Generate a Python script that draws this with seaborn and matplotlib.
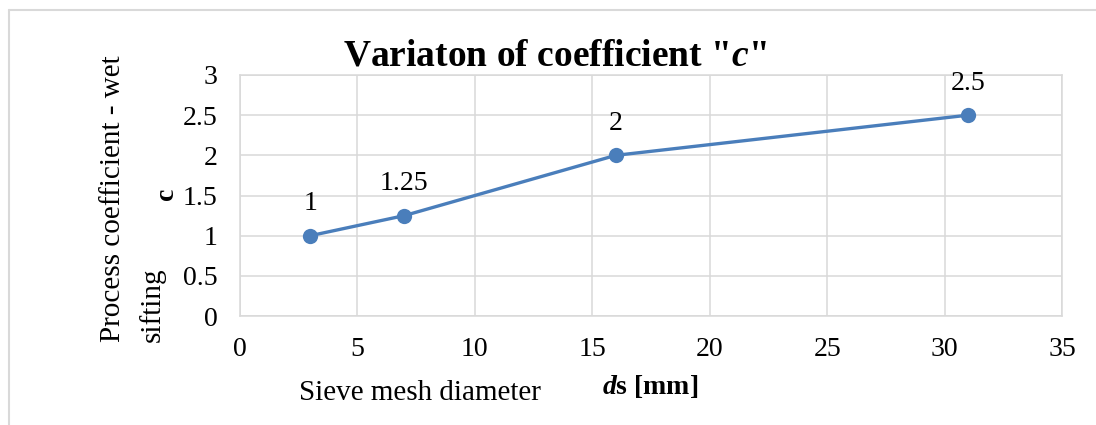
import matplotlib
matplotlib.use("Agg")
import matplotlib.pyplot as plt
from matplotlib.lines import Line2D
import pandas as pd
import seaborn as sns

# values
sieve_diameter = [3, 7, 16, 31]
coefficient_c = [1, 1.25, 2, 2.5]
point_labels = ["1", "1.25", "2", "2.5"]
x_ticks = [0, 5, 10, 15, 20, 25, 30, 35]
y_ticks = [0, 0.5, 1, 1.5, 2, 2.5, 3]

LINE_COLOR = "#4A7EBB"
GRID_COLOR = "#d9d9d9"

sns.set_style("whitegrid")
plt.rcParams["font.family"] = ["Liberation Serif", "DejaVu Serif"]
plt.rcParams["text.color"] = "black"
plt.rcParams["mathtext.fontset"] = "custom"
plt.rcParams["mathtext.rm"] = "Liberation Serif"
plt.rcParams["mathtext.it"] = "Liberation Serif:italic"
plt.rcParams["mathtext.bf"] = "Liberation Serif:bold"
plt.rcParams["mathtext.bfit"] = "Liberation Serif:bold:italic"

W, H = 1096, 425
fig = plt.figure(figsize=(W / 100, H / 100), dpi=100)
ax = fig.add_axes([240 / W, (H - 316) / H, 822 / W, 241 / H])

df = pd.DataFrame({"ds": sieve_diameter, "c": coefficient_c})
sns.lineplot(data=df, x="ds", y="c", ax=ax, color=LINE_COLOR, linewidth=2.4,
             marker="o", markersize=11, markeredgewidth=0, sort=False)

for x, y, lab in zip(sieve_diameter, coefficient_c, point_labels):
    ax.annotate(lab, (x, y), xytext=(0, 23), textcoords="offset points",
                ha="center", va="center", fontsize=20, color="black")

ax.set_xlim(0, 35)
ax.set_ylim(0, 3)
ax.set_xticks(x_ticks)
ax.set_yticks(y_ticks)
ax.set_xticklabels([str(t) for t in x_ticks])
ax.set_yticklabels([f"{t:g}" for t in y_ticks])
ax.tick_params(axis="both", length=0, labelsize=20, colors="black")
ax.tick_params(axis="x", pad=15)
ax.tick_params(axis="y", pad=16)
ax.grid(True, color=GRID_COLOR, linewidth=1.1)
for sp in ax.spines.values():
    sp.set_color(GRID_COLOR)
    sp.set_linewidth(1.1)
ax.set_xlabel("")
ax.set_ylabel("")

# title with italic c
fig.text(555 / W, (H - 65) / H, r'Variaton of coefficient "$\mathbfit{c}$"',
         ha="center", va="baseline", fontsize=27, fontweight="bold")

# axis titles (y title in two separate lines, bottom aligned)
fig.text(113 / W, (H - 342) / H, "Process coefficient - wet",
         rotation=90, ha="center", va="bottom", fontsize=21)
fig.text(152 / W, (H - 342) / H, "sifting",
         rotation=90, ha="center", va="bottom", fontsize=21)
fig.text(167 / W, (H - 194) / H, "c", rotation=90, ha="center", va="center",
         fontsize=20, fontweight="bold")
fig.text(420 / W, (H - 393) / H, "Sieve mesh diameter", ha="center",
         va="center", fontsize=21)
fig.text(650 / W, (H - 386) / H, r"$\mathbfit{d}$s [mm]", ha="center",
         va="center", fontsize=20, fontweight="bold")

# chart frame
fig.add_artist(Line2D([8.5 / W, 1], [1 - 9.5 / H, 1 - 9.5 / H],
                      transform=fig.transFigure, color=GRID_COLOR, linewidth=1.5))
fig.add_artist(Line2D([8.5 / W, 8.5 / W], [0, 1 - 9.5 / H],
                      transform=fig.transFigure, color=GRID_COLOR, linewidth=1.5))

fig.savefig("out.png", dpi=100)
